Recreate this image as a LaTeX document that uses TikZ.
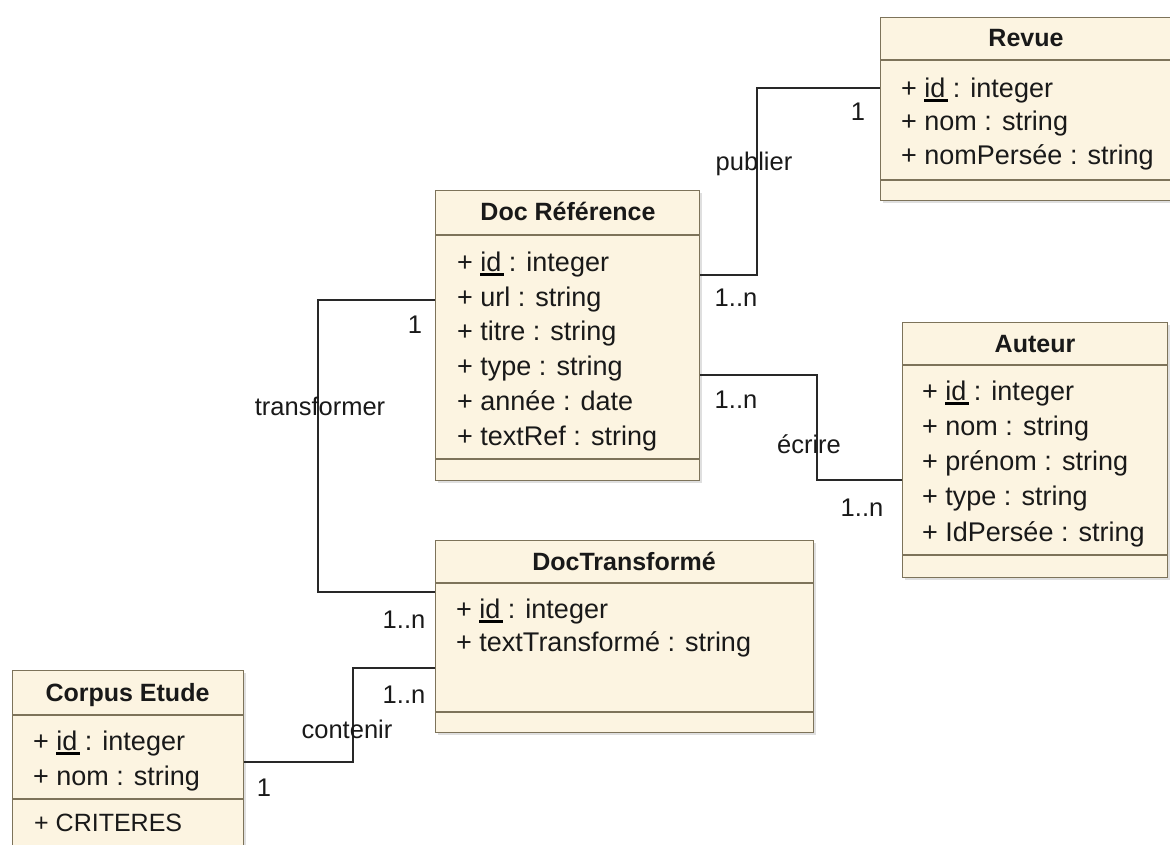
\documentclass[tikz,border=0pt]{standalone}
\usepackage{fontspec}
\setmainfont{Liberation Sans}
\usetikzlibrary{shadows}
\definecolor{umlfill}{RGB}{252,244,225}
\definecolor{umlborder}{RGB}{125,115,90}
\definecolor{linkcol}{RGB}{40,40,40}
\newcommand\myid{\setbox0\hbox{id}\rlap{\color{black}\rule[-4.5pt]{\dimexpr\wd0+3pt\relax}{3pt}}\box0}
\begin{document}
\begin{tikzpicture}[x=1pt,y=1pt,
  classbox/.style={draw=umlborder, line width=1.3pt, fill=umlfill, inner sep=0, anchor=north west,
    drop shadow={shadow xshift=2pt, shadow yshift=-2pt, opacity=0.25}},
  sep/.style={draw=umlborder, line width=1.3pt},
  attr/.style={anchor=base west, inner sep=0, font=\fontsize{27}{31}\selectfont, text=black!90},
  title/.style={anchor=base, inner sep=0, font=\fontsize{25}{29}\selectfont\bfseries, text=black!90},
  lbl/.style={anchor=base, inner sep=0, font=\fontsize{25.5}{30}\selectfont, text=black!90},
  link/.style={draw=linkcol, line width=1.4pt}]
\clip (0,0) rectangle (1170,-845);
\fill[white] (0,0) rectangle (1170,-845);

% ---------- Revue ----------
\node[classbox, minimum width=290, minimum height=183] (revue) at (880,-17) {};
\draw[sep] (revue.west |- 0,-60) -- (revue.east |- 0,-60);
\draw[sep] (revue.west |- 0,-180) -- (revue.east |- 0,-180);
\node[title] (revueT) at (1026,-47) {Revue};
\node[attr] (revueA1) at (901,-98) {+ \myid\ : integer};
\node[attr] (revueA2) at (901,-131) {+ nom : string};
\node[attr] (revueA3) at (901,-165) {+ nomPersée : string};

% ---------- Doc Reference ----------
\node[classbox, minimum width=264, minimum height=290] (docref) at (435,-190) {};
\draw[sep] (docref.west |- 0,-235) -- (docref.east |- 0,-235);
\draw[sep] (docref.west |- 0,-459) -- (docref.east |- 0,-459);
\node[title] (docrefT) at (568,-221) {Doc Référence};
\node[attr] (docrefA1) at (457,-271) {+ \myid\ : integer};
\node[attr] (docrefA2) at (457,-306) {+ url : string};
\node[attr] (docrefA3) at (457,-340) {+ titre : string};
\node[attr] (docrefA4) at (457,-375) {+ type : string};
\node[attr] (docrefA5) at (457,-410) {+ année : date};
\node[attr] (docrefA6) at (457,-445) {+ textRef : string};

% ---------- Auteur ----------
\node[classbox, minimum width=265, minimum height=255] (auteur) at (902,-322) {};
\draw[sep] (auteur.west |- 0,-365) -- (auteur.east |- 0,-365);
\draw[sep] (auteur.west |- 0,-555) -- (auteur.east |- 0,-555);
\node[title] (auteurT) at (1035,-352) {Auteur};
\node[attr] (auteurA1) at (922,-400) {+ \myid\ : integer};
\node[attr] (auteurA2) at (922,-435) {+ nom : string};
\node[attr] (auteurA3) at (922,-470) {+ prénom : string};
\node[attr] (auteurA4) at (922,-505) {+ type : string};
\node[attr] (auteurA5) at (922,-541) {+ IdPersée : string};

% ---------- DocTransforme ----------
\node[classbox, minimum width=378, minimum height=192] (doctr) at (435,-540) {};
\draw[sep] (doctr.west |- 0,-583) -- (doctr.east |- 0,-583);
\draw[sep] (doctr.west |- 0,-712) -- (doctr.east |- 0,-712);
\node[title] (doctrT) at (624,-570) {DocTransformé};
\node[attr] (doctrA1) at (456,-618) {+ \myid\ : integer};
\node[attr] (doctrA2) at (456,-651) {+ textTransformé : string};

% ---------- Corpus Etude ----------
\node[classbox, minimum width=231, minimum height=200] (corpus) at (12,-670) {};
\draw[sep] (corpus.west |- 0,-715) -- (corpus.east |- 0,-715);
\draw[sep] (corpus.west |- 0,-799) -- (corpus.east |- 0,-799);
\node[title] (corpusT) at (127.5,-701) {Corpus Etude};
\node[attr] (corpusA1) at (33,-750) {+ \myid\ : integer};
\node[attr] (corpusA2) at (33,-785) {+ nom : string};
\node[attr, font=\fontsize{25}{29}\selectfont] (corpusA3) at (34,-831) {+ CRITERES};

% ---------- connectors ----------
\coordinate (pubA) at (757,-275);
\coordinate (pubB) at (757,-88);
\draw[link] (docref.east |- pubA) -- (pubA) -- (pubB) -- (revue.west |- pubB);
\node[lbl] (pubL) at (754,-171) {publier};
\node[lbl] (pubM1) at (858,-121) {1};
\node[lbl] (pubM2) at (736,-306) {1..n};

\coordinate (ecrA) at (817,-375);
\coordinate (ecrB) at (817,-480);
\draw[link] (docref.east |- ecrA) -- (ecrA) -- (ecrB) -- (auteur.west |- ecrB);
\node[lbl] (ecrL) at (809,-453) {écrire};
\node[lbl] (ecrM1) at (736,-408) {1..n};
\node[lbl] (ecrM2) at (862,-516) {1..n};

\coordinate (trA) at (318,-300);
\coordinate (trB) at (318,-592);
\draw[link] (docref.west |- trA) -- (trA) -- (trB) -- (doctr.west |- trB);
\node[lbl] (trL) at (320,-415) {transformer};
\node[lbl] (trM1) at (415,-333) {1};
\node[lbl] (trM2) at (404,-628) {1..n};

\coordinate (coA) at (353,-762);
\coordinate (coB) at (353,-668);
\draw[link] (corpus.east |- coA) -- (coA) -- (coB) -- (doctr.west |- coB);
\node[lbl] (coL) at (347,-738) {contenir};
\node[lbl] (coM1) at (264,-796) {1};
\node[lbl] (coM2) at (404,-703) {1..n};
\end{tikzpicture}
\end{document}
